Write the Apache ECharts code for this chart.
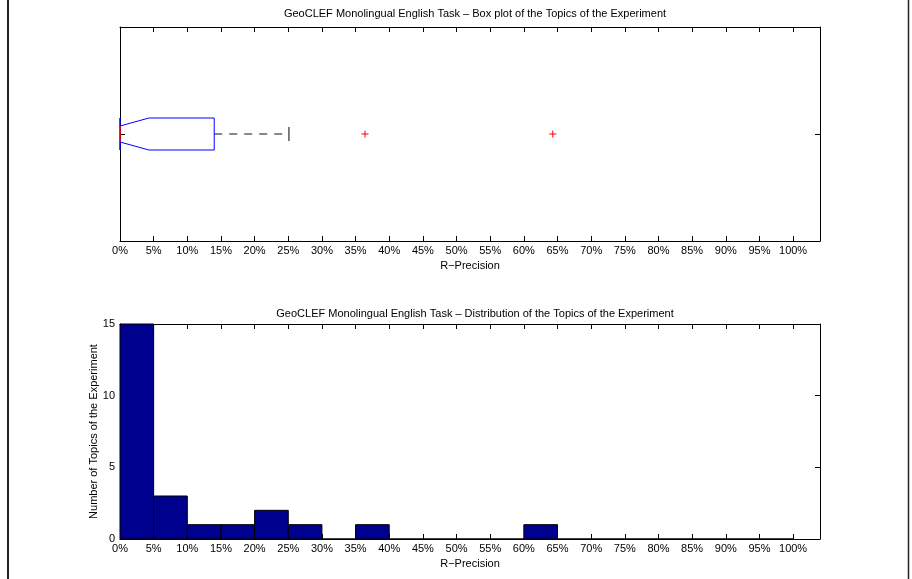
<!DOCTYPE html>
<html>
<head>
<meta charset="utf-8">
<title>GeoCLEF Monolingual English Task</title>
<script src="https://cdn.jsdelivr.net/npm/echarts@6/dist/echarts.min.js"></script>
<style>
    html, body { margin: 0; padding: 0; background: #fff; }
    #main { width: 912px; height: 579px; }
</style>
</head>
<body>
<div id="main"></div>
<script>
// box plot summary (R-Precision, %): lower whisker, q1, median, q3, upper whisker
const boxSummary = [0, 0, 0, 14.0, 25.1];
// notch bounds around the median
const notchBounds = [0, 4.3];
// outliers
const outlierValues = [36.4, 64.3];

// histogram bins (5% wide) and topic counts
const binStarts = [0, 5, 10, 15, 20, 25, 30, 35, 40, 45, 50, 55, 60, 65, 70, 75, 80, 85, 90, 95];
const topicCounts = [15, 3, 1, 1, 2, 1, 0, 1, 0, 0, 0, 0, 1, 0, 0, 0, 0, 0, 0, 0];
const binWidth = 5;

// axis ticks
const xMax = 104;
const xStep = 5;
const countTicks = [0, 5, 10, 15];

const font = 'Liberation Sans, Arial, Helvetica, sans-serif';
const ink = '#000';

const chartDom = document.getElementById('main');
const myChart = echarts.init(chartDom);

// shared look of a matlab style axis
const xAxisBase = (grid, pos, withLabel) => ({
    type: 'value',
    gridIndex: grid,
    position: pos,
    min: 0,
    max: xMax,
    interval: xStep,
    splitLine: { show: false },
    axisLine: { show: true, onZero: false, lineStyle: { color: ink, width: 1 } },
    axisTick: { show: true, inside: true, length: 5, lineStyle: { color: ink } },
    axisLabel: {
        show: withLabel,
        margin: 4,
        color: ink,
        fontFamily: font,
        fontSize: 11,
        formatter: (v) => (v % xStep === 0 ? v + '%' : '')
    },
    name: withLabel ? 'R\u2212Precision' : '',
    nameLocation: 'middle',
    nameGap: 19,
    nameTextStyle: { color: ink, fontFamily: font, fontSize: 11 }
});

const yAxisBase = (grid, pos, min, max, interval, withLabel) => ({
    type: 'value',
    gridIndex: grid,
    position: pos,
    min: min,
    max: max,
    interval: interval,
    splitLine: { show: false },
    axisLine: { show: true, onZero: false, lineStyle: { color: ink, width: 1 } },
    axisTick: { show: true, inside: true, length: 5, lineStyle: { color: ink } },
    axisLabel: { show: withLabel, margin: 5, color: ink, fontFamily: font, fontSize: 11 }
});

// the box with its notch, median, whiskers
const renderBox = (params, api) => {
    const [lo, q1, med, q3, hi] = boxSummary;
    const cy = api.coord([0, 1])[1];
    const h = 16;   // half height of the box
    const n = 8;    // half height at the notch
    const px = (v) => api.coord([v, 1])[0];
    const pts = [
        [px(q1), cy - h], [px(notchBounds[0]), cy - h], [px(med), cy - n],
        [px(notchBounds[1]), cy - h], [px(q3), cy - h], [px(q3), cy + h],
        [px(notchBounds[1]), cy + h], [px(med), cy + n], [px(notchBounds[0]), cy + h],
        [px(q1), cy + h]
    ];
    const dash = { stroke: '#111', lineWidth: 1, lineDash: [8, 7] };
    return {
        type: 'group',
        children: [
            { type: 'line', shape: { x1: px(q3), y1: cy, x2: px(hi), y2: cy }, style: dash },
            { type: 'line', shape: { x1: px(lo), y1: cy, x2: px(q1), y2: cy }, style: dash },
            { type: 'line', shape: { x1: px(hi), y1: cy - 7, x2: px(hi), y2: cy + 7 }, style: { stroke: ink, lineWidth: 1 } },
            { type: 'polygon', shape: { points: pts }, style: { fill: 'none', stroke: '#0000ff', lineWidth: 1 } },
            { type: 'line', shape: { x1: px(med), y1: cy - n, x2: px(med), y2: cy + n }, style: { stroke: '#ff0000', lineWidth: 1.5 } }
        ]
    };
};

const renderOutlier = (params, api) => {
    const p = api.coord([api.value(0), 1]);
    const s = 3.5;
    const st = { stroke: '#ff0000', lineWidth: 1 };
    return {
        type: 'group',
        children: [
            { type: 'line', shape: { x1: p[0] - s, y1: p[1], x2: p[0] + s, y2: p[1] }, style: st },
            { type: 'line', shape: { x1: p[0], y1: p[1] - s, x2: p[0], y2: p[1] + s }, style: st }
        ]
    };
};

const renderBin = (params, api) => {
    const start = api.value(0);
    const count = api.value(1);
    const a = api.coord([start, 0]);
    const b = api.coord([start + binWidth, count]);
    return {
        type: 'rect',
        shape: { x: a[0], y: b[1], width: b[0] - a[0], height: a[1] - b[1] },
        style: { fill: '#00008f', stroke: ink, lineWidth: 1 }
    };
};

const option = {
    animation: false,
    backgroundColor: '#fff',
    textStyle: { fontFamily: font },
    title: [
        {
            text: 'GeoCLEF Monolingual English Task \u2013 Box plot of the Topics of the Experiment',
            left: 470, top: 3, textAlign: 'center',
            textStyle: { color: ink, fontFamily: font, fontSize: 11, fontWeight: 'normal' }
        },
        {
            text: 'GeoCLEF Monolingual English Task \u2013 Distribution of the Topics of the Experiment',
            left: 470, top: 303, textAlign: 'center',
            textStyle: { color: ink, fontFamily: font, fontSize: 11, fontWeight: 'normal' }
        }
    ],
    grid: [
        { left: 120, top: 27, width: 700, height: 214 },
        { left: 120, top: 324, width: 700, height: 215 }
    ],
    xAxis: [
        xAxisBase(0, 'bottom', true),
        xAxisBase(0, 'top', false),
        xAxisBase(1, 'bottom', true),
        xAxisBase(1, 'top', false)
    ],
    yAxis: [
        yAxisBase(0, 'left', 0, 2, 1, false),
        yAxisBase(0, 'right', 0, 2, 1, false),
        Object.assign(yAxisBase(1, 'left', countTicks[0], countTicks[countTicks.length - 1], countTicks[1] - countTicks[0], true), {
            name: 'Number of Topics of the Experiment',
            nameLocation: 'middle',
            nameGap: 21,
            nameMoveOverlap: false,
            nameTextStyle: { color: ink, fontFamily: font, fontSize: 11 }
        }),
        yAxisBase(1, 'right', countTicks[0], countTicks[countTicks.length - 1], countTicks[1] - countTicks[0], false)
    ],
    series: [
        {
            type: 'custom',
            xAxisIndex: 0, yAxisIndex: 0,
            data: [[boxSummary[2], 1]],
            renderItem: renderBox
        },
        {
            type: 'custom',
            xAxisIndex: 0, yAxisIndex: 0,
            data: outlierValues.map((v) => [v, 1]),
            renderItem: renderOutlier
        },
        {
            type: 'custom',
            xAxisIndex: 2, yAxisIndex: 2,
            data: binStarts.map((s, i) => [s, topicCounts[i]]),
            renderItem: renderBin
        }
    ],
    // frame lines at the page edges
    graphic: [
        { type: 'line', shape: { x1: 8, y1: 0, x2: 8, y2: 579 }, style: { stroke: '#222', lineWidth: 2 } },
        { type: 'line', shape: { x1: 908.5, y1: 0, x2: 908.5, y2: 579 }, style: { stroke: '#222', lineWidth: 1.5 } }
    ]
};

option && myChart.setOption(option);
</script>
</body>
</html>
